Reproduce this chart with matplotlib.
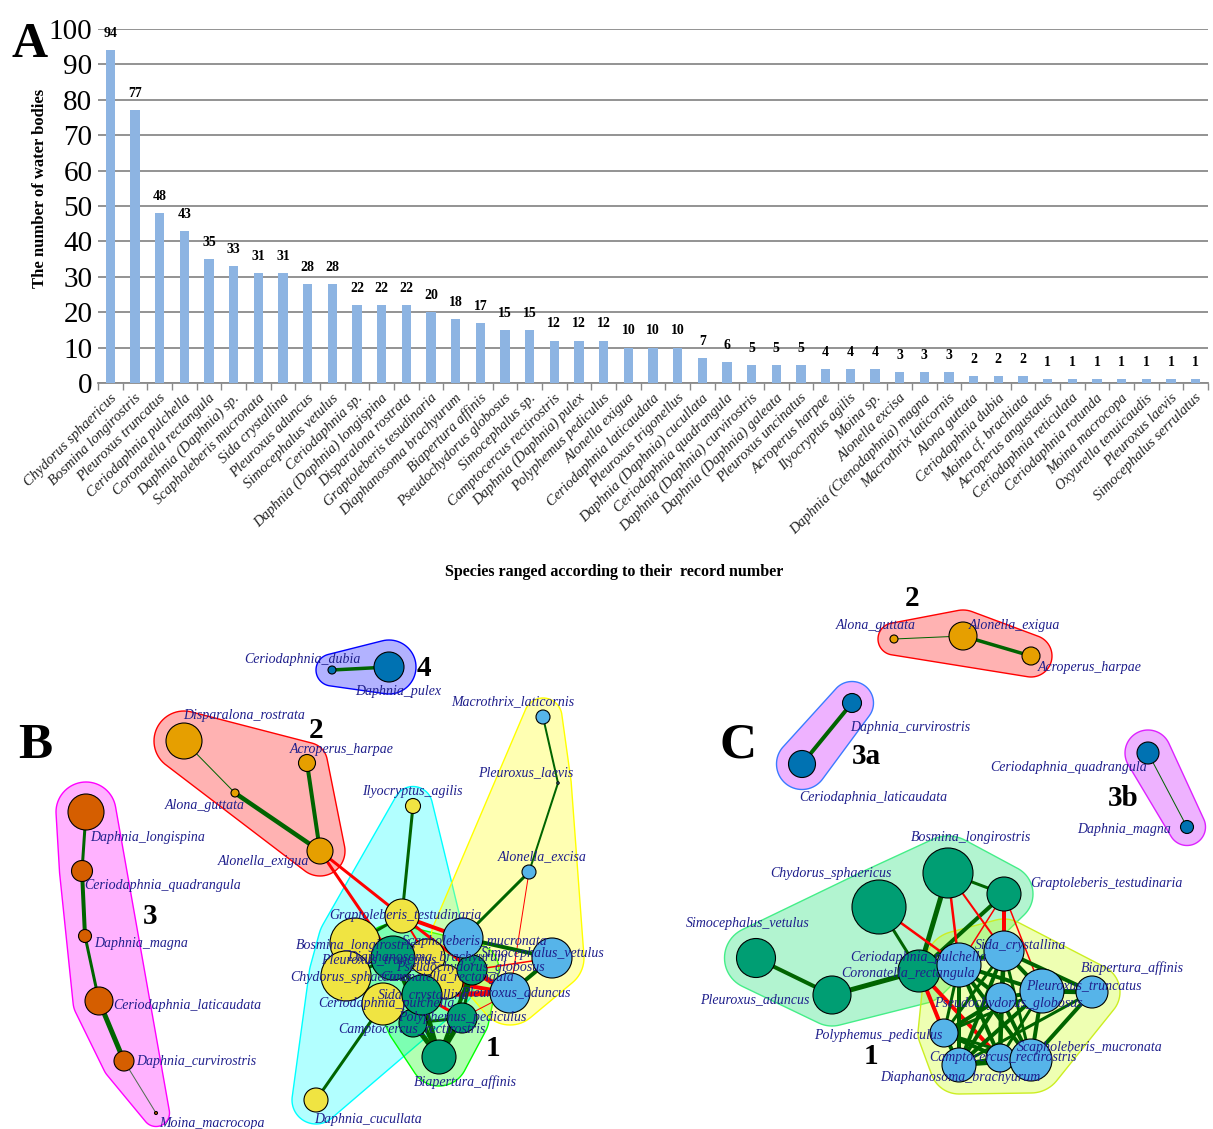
import numpy as np
import matplotlib
matplotlib.use("Agg")
import matplotlib.pyplot as plt
from matplotlib.patches import Circle, Polygon
from matplotlib.transforms import offset_copy
from matplotlib.colors import to_rgba

plt.rcParams['font.family'] = ['Liberation Serif', 'DejaVu Serif']

# ---------------- Panel A data ----------------
species = [
    "Chydorus sphaericus", "Bosmina longirostris", "Pleuroxus truncatus",
    "Ceriodaphnia pulchella", "Coronatella rectangula", "Daphnia (Daphnia) sp.",
    "Scapholeberis mucronata", "Sida crystallina", "Pleuroxus aduncus",
    "Simocephalus vetulus", "Ceriodaphnia sp.", "Daphnia (Daphnia) longispina",
    "Disparalona rostrata", "Graptoleberis tesudinaria", "Diaphanosoma brachyurum",
    "Biapertura affinis", "Pseudochydorus globosus", "Simocephalus sp.",
    "Camptocercus rectirostris", "Daphnia (Daphnia) pulex", "Polyphemus pediculus",
    "Alonella exigua", "Ceriodaphnia laticaudata", "Pleuroxus trigonellus",
    "Daphnia (Daphnia) cucullata", "Ceriodaphnia quadrangula",
    "Daphnia (Daphnia) curvirostris", "Daphnia (Daphnia) galeata",
    "Pleuroxus uncinatus", "Acroperus harpae", "Ilyocryptus agilis", "Moina sp.",
    "Alonella excisa", "Daphnia (Ctenodaphnia) magna", "Macrothrix laticornis",
    "Alona guttata", "Ceriodaphnia dubia", "Moina cf. brachiata",
    "Acroperus angustatus", "Ceriodaphnia reticulata", "Ceriodaphnia rotunda",
    "Moina macrocopa", "Oxyurella tenuicaudis", "Pleuroxus laevis",
    "Simocephalus serrulatus",
]
records = [94, 77, 48, 43, 35, 33, 31, 31, 28, 28, 22, 22, 22, 20, 18, 17, 15, 15,
           12, 12, 12, 10, 10, 10, 7, 6, 5, 5, 5, 4, 4, 4, 3, 3, 3, 2, 2, 2,
           1, 1, 1, 1, 1, 1, 1]
y_ticks = [0, 10, 20, 30, 40, 50, 60, 70, 80, 90, 100]

# ---------------- Network B data ----------------
b_nodes = [
    "Ceriodaphnia_dubia", "Daphnia_pulex",
    "Disparalona_rostrata", "Acroperus_harpae", "Alona_guttata", "Alonella_exigua",
    "Daphnia_longispina", "Ceriodaphnia_quadrangula", "Daphnia_magna",
    "Ceriodaphnia_laticaudata", "Daphnia_curvirostris", "Moina_macrocopa",
    "Ilyocryptus_agilis", "Daphnia_cucullata", "Bosmina_longirostris",
    "Chydorus_sphaericus", "Graptoleberis_testudinaria", "Diaphanosoma_brachyurum",
    "Coronatella_rectangula",
    "Pleuroxus_truncatus", "Camptocercus_rectirostris", "Ceriodaphnia_pulchella",
    "Sida_crystallina", "Pseudochydorus_globosus", "Polyphemus_pediculus",
    "Biapertura_affinis",
    "Macrothrix_laticornis", "Pleuroxus_laevis", "Alonella_excisa",
    "Scapholeberis_mucronata", "Simocephalus_vetulus", "Pleuroxus_aduncus",
]
b_x = [332, 389, 184, 307, 235, 320, 86, 82, 85, 99, 124, 156,
       413, 316, 355, 346, 402, 427, 446,
       393, 413, 383, 422, 472, 462, 439,
       543, 558, 529, 463, 552, 510]
b_y = [670, 667, 741, 763, 793, 851, 812, 871, 936, 1001, 1061, 1113,
       806, 1100, 943, 976, 916, 957, 982,
       958, 1023, 1004, 995, 970, 1018, 1057,
       717, 783, 872, 938, 958, 993]
b_size = [4, 15, 18, 8.5, 4, 13, 18, 10.5, 6.5, 14, 10, 1.5,
          7.5, 12, 25, 25, 17, 18, 17,
          22, 14, 21, 20, 15, 15, 17,
          7, 1.2, 7, 20, 20, 20]
b_group = ["g4", "g4", "g2", "g2", "g2", "g2", "g3", "g3", "g3", "g3", "g3", "g3",
           "cy", "cy", "cy", "cy", "cy", "cy", "cy",
           "g1", "g1", "cy", "g1", "g1", "g1", "g1",
           "ye", "ye", "ye", "ye", "ye", "ye"]
b_label_x = [302, 398, 244, 342, 205, 263, 148, 163, 141, 187, 196, 212,
             412, 368, 356, 351, 405, 427, 447,
             379, 412, 386, 424, 470, 462, 465,
             513, 526, 542, 475, 543, 516]
b_label_y = [659, 691, 715, 749, 805, 861, 837, 886, 943, 1006, 1061, 1123,
             791, 1120, 946, 978, 916, 957, 977,
             960, 1029, 1003, 995, 968, 1017, 1082,
             702, 773, 857, 941, 953, 993]
b_edges = [
    ("Ceriodaphnia_dubia", "Daphnia_pulex", 3.5, "+"),
    ("Disparalona_rostrata", "Alona_guttata", 1.0, "+"),
    ("Alona_guttata", "Alonella_exigua", 4.5, "+"),
    ("Acroperus_harpae", "Alonella_exigua", 4.0, "+"),
    ("Daphnia_longispina", "Ceriodaphnia_quadrangula", 3.0, "+"),
    ("Ceriodaphnia_quadrangula", "Daphnia_magna", 4.0, "+"),
    ("Daphnia_magna", "Ceriodaphnia_laticaudata", 3.0, "+"),
    ("Ceriodaphnia_laticaudata", "Daphnia_curvirostris", 5.0, "+"),
    ("Daphnia_curvirostris", "Moina_macrocopa", 1.0, "w"),
    ("Alonella_exigua", "Graptoleberis_testudinaria", 3.0, "-"),
    ("Alonella_exigua", "Pleuroxus_truncatus", 3.0, "-"),
    ("Ilyocryptus_agilis", "Graptoleberis_testudinaria", 3.0, "+"),
    ("Macrothrix_laticornis", "Pleuroxus_laevis", 2.0, "+"),
    ("Pleuroxus_laevis", "Alonella_excisa", 2.0, "+"),
    ("Alonella_excisa", "Scapholeberis_mucronata", 3.0, "+"),
    ("Alonella_excisa", "Pleuroxus_aduncus", 1.0, "-"),
    ("Scapholeberis_mucronata", "Simocephalus_vetulus", 4.0, "+"),
    ("Simocephalus_vetulus", "Pleuroxus_aduncus", 4.0, "+"),
    ("Simocephalus_vetulus", "Pseudochydorus_globosus", 1.5, "-"),
    ("Daphnia_cucullata", "Ceriodaphnia_pulchella", 3.0, "+"),
    ("Graptoleberis_testudinaria", "Bosmina_longirostris", 3.0, "+"),
    ("Graptoleberis_testudinaria", "Scapholeberis_mucronata", 4.0, "-"),
    ("Graptoleberis_testudinaria", "Pseudochydorus_globosus", 3.0, "-"),
    ("Graptoleberis_testudinaria", "Diaphanosoma_brachyurum", 2.0, "-"),
    ("Scapholeberis_mucronata", "Pseudochydorus_globosus", 3.0, "+"),
    ("Pseudochydorus_globosus", "Pleuroxus_aduncus", 5.0, "-"),
    ("Sida_crystallina", "Pleuroxus_aduncus", 5.0, "-"),
    ("Sida_crystallina", "Polyphemus_pediculus", 3.0, "-"),
    ("Coronatella_rectangula", "Pleuroxus_aduncus", 4.0, "-"),
    ("Pleuroxus_aduncus", "Polyphemus_pediculus", 1.0, "-"),
    ("Biapertura_affinis", "Camptocercus_rectirostris", 5.0, "+"),
    ("Biapertura_affinis", "Polyphemus_pediculus", 5.0, "+"),
    ("Biapertura_affinis", "Sida_crystallina", 5.0, "+"),
    ("Biapertura_affinis", "Pleuroxus_truncatus", 4.0, "+"),
    ("Biapertura_affinis", "Pseudochydorus_globosus", 4.0, "+"),
    ("Bosmina_longirostris", "Pleuroxus_truncatus", 4.0, "+"),
    ("Chydorus_sphaericus", "Pleuroxus_truncatus", 3.0, "+"),
    ("Ceriodaphnia_pulchella", "Sida_crystallina", 3.0, "+"),
    ("Camptocercus_rectirostris", "Polyphemus_pediculus", 3.0, "+"),
    ("Pleuroxus_truncatus", "Sida_crystallina", 4.0, "+"),
    ("Pseudochydorus_globosus", "Polyphemus_pediculus", 3.0, "+"),
]
b_hulls = [
    ("cy", "#00FFFF", "#00FFFF"),
    ("g1", "#00FF00", "#00FF00"),
    ("ye", "#FFFF00", "#FFFF00"),
    ("g2", "#FF0000", "#FF0000"),
    ("g3", "#FF00FF", "#FF00FF"),
    ("g4", "#0000FF", "#0000FF"),
]
b_tags = ["4", "2", "3", "1"]
b_tag_x = [424, 316, 150, 493]
b_tag_y = [668, 731, 917, 1048]

# ---------------- Network C data ----------------
c_nodes = [
    "Alona_guttata", "Alonella_exigua", "Acroperus_harpae",
    "Daphnia_curvirostris", "Ceriodaphnia_laticaudata",
    "Ceriodaphnia_quadrangula", "Daphnia_magna",
    "Bosmina_longirostris", "Chydorus_sphaericus", "Graptoleberis_testudinaria",
    "Simocephalus_vetulus", "Pleuroxus_aduncus", "Coronatella_rectangula",
    "Ceriodaphnia_pulchella", "Sida_crystallina", "Pleuroxus_truncatus",
    "Pseudochydorus_globosus", "Biapertura_affinis", "Polyphemus_pediculus",
    "Camptocercus_rectirostris", "Diaphanosoma_brachyurum", "Scapholeberis_mucronata",
]
c_x = [894, 963, 1031, 852, 802, 1148, 1187,
       948, 879, 1004, 756, 832, 919,
       959, 1004, 1042, 1001, 1092, 944, 1000, 959, 1031]
c_y = [639, 636, 656, 703, 764, 753, 827,
       873, 907, 894, 958, 995, 971,
       965, 951, 991, 998, 992, 1033, 1058, 1065, 1060]
c_size = [4, 14, 9, 9.5, 13.5, 11, 6.5,
          25, 27, 17, 19.5, 19, 21,
          22, 20, 22, 15, 16, 14, 14, 17, 21]
c_group = ["g2", "g2", "g2", "g3a", "g3a", "g3b", "g3b",
           "g1", "g1", "g1", "g1", "g1", "g1",
           "ye", "ye", "ye", "ye", "ye", "ye", "ye", "ye", "ye"]
c_label_x = [876, 1014, 1090, 910, 873, 1069, 1124,
             971, 831, 1106, 748, 755, 908,
             918, 1021, 1084, 1008, 1132, 878, 1003, 960, 1090]
c_label_y = [626, 626, 667, 727, 798, 767, 829,
             837, 873, 884, 924, 1000, 974,
             958, 946, 986, 1004, 968, 1035, 1058, 1077, 1048]
c_edges = [
    ("Alona_guttata", "Alonella_exigua", 1.0, "+"),
    ("Alonella_exigua", "Acroperus_harpae", 3.5, "+"),
    ("Daphnia_curvirostris", "Ceriodaphnia_laticaudata", 4.0, "+"),
    ("Ceriodaphnia_quadrangula", "Daphnia_magna", 1.0, "+"),
    ("Simocephalus_vetulus", "Pleuroxus_aduncus", 4.0, "+"),
    ("Pleuroxus_aduncus", "Coronatella_rectangula", 5.0, "+"),
    ("Chydorus_sphaericus", "Coronatella_rectangula", 3.0, "+"),
    ("Bosmina_longirostris", "Coronatella_rectangula", 5.0, "+"),
    ("Bosmina_longirostris", "Graptoleberis_testudinaria", 3.0, "+"),
    ("Graptoleberis_testudinaria", "Coronatella_rectangula", 4.0, "+"),
    ("Coronatella_rectangula", "Ceriodaphnia_pulchella", 3.0, "+"),
    ("Chydorus_sphaericus", "Ceriodaphnia_pulchella", 2.5, "-"),
    ("Bosmina_longirostris", "Ceriodaphnia_pulchella", 2.5, "-"),
    ("Bosmina_longirostris", "Sida_crystallina", 2.0, "-"),
    ("Graptoleberis_testudinaria", "Sida_crystallina", 4.0, "-"),
    ("Graptoleberis_testudinaria", "Ceriodaphnia_pulchella", 1.5, "-"),
    ("Graptoleberis_testudinaria", "Pleuroxus_truncatus", 1.5, "-"),
    ("Coronatella_rectangula", "Polyphemus_pediculus", 4.0, "-"),
    ("Coronatella_rectangula", "Camptocercus_rectirostris", 4.0, "-"),
    ("Ceriodaphnia_pulchella", "Sida_crystallina", 4.0, "+"),
    ("Ceriodaphnia_pulchella", "Pleuroxus_truncatus", 4.0, "+"),
    ("Ceriodaphnia_pulchella", "Pseudochydorus_globosus", 4.0, "+"),
    ("Ceriodaphnia_pulchella", "Camptocercus_rectirostris", 4.0, "+"),
    ("Ceriodaphnia_pulchella", "Diaphanosoma_brachyurum", 4.0, "+"),
    ("Ceriodaphnia_pulchella", "Scapholeberis_mucronata", 4.0, "+"),
    ("Ceriodaphnia_pulchella", "Polyphemus_pediculus", 3.0, "+"),
    ("Sida_crystallina", "Pleuroxus_truncatus", 4.0, "+"),
    ("Sida_crystallina", "Pseudochydorus_globosus", 4.0, "+"),
    ("Sida_crystallina", "Camptocercus_rectirostris", 4.0, "+"),
    ("Sida_crystallina", "Diaphanosoma_brachyurum", 4.0, "+"),
    ("Sida_crystallina", "Scapholeberis_mucronata", 3.0, "+"),
    ("Sida_crystallina", "Polyphemus_pediculus", 3.0, "+"),
    ("Sida_crystallina", "Biapertura_affinis", 4.0, "+"),
    ("Pleuroxus_truncatus", "Pseudochydorus_globosus", 4.0, "+"),
    ("Pleuroxus_truncatus", "Scapholeberis_mucronata", 4.0, "+"),
    ("Pleuroxus_truncatus", "Camptocercus_rectirostris", 3.0, "+"),
    ("Pleuroxus_truncatus", "Diaphanosoma_brachyurum", 4.0, "+"),
    ("Pleuroxus_truncatus", "Polyphemus_pediculus", 3.0, "+"),
    ("Pleuroxus_truncatus", "Biapertura_affinis", 5.0, "+"),
    ("Pseudochydorus_globosus", "Polyphemus_pediculus", 4.0, "+"),
    ("Pseudochydorus_globosus", "Camptocercus_rectirostris", 4.0, "+"),
    ("Pseudochydorus_globosus", "Diaphanosoma_brachyurum", 4.0, "+"),
    ("Pseudochydorus_globosus", "Scapholeberis_mucronata", 4.0, "+"),
    ("Polyphemus_pediculus", "Camptocercus_rectirostris", 4.0, "+"),
    ("Polyphemus_pediculus", "Diaphanosoma_brachyurum", 4.0, "+"),
    ("Polyphemus_pediculus", "Scapholeberis_mucronata", 3.0, "+"),
    ("Camptocercus_rectirostris", "Diaphanosoma_brachyurum", 4.0, "+"),
    ("Camptocercus_rectirostris", "Scapholeberis_mucronata", 4.0, "+"),
    ("Diaphanosoma_brachyurum", "Scapholeberis_mucronata", 4.0, "+"),
    ("Biapertura_affinis", "Diaphanosoma_brachyurum", 3.0, "+"),
    ("Biapertura_affinis", "Scapholeberis_mucronata", 4.0, "+"),
]
c_hulls = [
    ("g1", "#00DD66", "#44EE88"),
    ("ye", "#C8FF00", "#CCEE22"),
    ("g2", "#FF0000", "#FF0000"),
    ("g3a", "#C800FF", "#3A7BFF"),
    ("g3b", "#C800FF", "#DD22FF"),
]
c_tags = ["2", "3a", "3b", "1"]
c_tag_x = [912, 866, 1123, 871]
c_tag_y = [598, 757, 798, 1057]

node_colours = {"g4": "#0072B2", "g2": "#E69F00", "g3": "#D55E00", "cy": "#F0E442",
                "g1": "#009E73", "ye": "#56B4E9", "g3a": "#0072B2", "g3b": "#0072B2"}
edge_colours = {"+": "#006400", "-": "#FF0000", "w": "#4F6F4F"}
label_colour = "#1F1F8C"

W, H = 1213, 1129
fig = plt.figure(figsize=(W / 100, H / 100), dpi=100)

# ---------------- Panel A ----------------
ax = fig.add_axes([98 / W, 1 - 383 / H, (1208 - 98) / W, (383 - 29) / H])
xpos = np.arange(len(species))
ax.bar(xpos, records, width=0.38, color="#8DB4E2", zorder=3)
ax.set_xlim(-0.5, len(species) - 0.5)
ax.set_ylim(0, 100)
ax.set_yticks(y_ticks)
ax.set_yticklabels([str(v) for v in y_ticks], fontsize=21)
ax.tick_params(axis="y", length=0, pad=4)
ax.yaxis.grid(True, color="#8A8A8A", linewidth=1.3, zorder=0)
for s in ("left", "right", "top"):
    ax.spines[s].set_visible(False)
ax.spines["bottom"].set_color("#8A8A8A")
ax.spines["bottom"].set_linewidth(1.3)
ax.set_xticks(np.arange(len(species) + 1) - 0.5)
ax.set_xticklabels([])
ax.tick_params(axis="x", length=5, width=1, color="#8A8A8A", direction="out")

for i, v in enumerate(records):
    ax.annotate(str(v), (i, v), xytext=(0, 12), textcoords="offset points",
                ha="center", va="center", fontsize=10, fontweight="bold")

lab_tr = offset_copy(ax.transData, fig=fig, x=4, y=-13, units="dots")
for i, name in enumerate(species):
    ax.text(i, 0, name, transform=lab_tr, rotation=45, rotation_mode="anchor",
            ha="right", va="center", fontsize=10.5, fontstyle="italic", color="#222222")

ax.set_ylabel("The number of water bodies", fontsize=12, fontweight="bold")
ax.yaxis.set_label_coords(-50 / (1208 - 98), 0.55)
fig.text(614 / W, 1 - 572 / H, "Species ranged according to their  record number",
         ha="center", va="center", fontsize=11.5, fontweight="bold")
fig.text(30 / W, 1 - 45 / H, "A", ha="center", va="center", fontsize=36, fontweight="bold")

# ---------------- Panels B and C ----------------
net = fig.add_axes([0, 0, 1, (H - 584) / H])
net.set_xlim(0, W)
net.set_ylim(H, 584)
net.axis("off")


def convex_hull(points):
    pts = sorted(set(points))
    if len(pts) < 3:
        return pts

    def cross(o, a, b):
        return (a[0] - o[0]) * (b[1] - o[1]) - (a[1] - o[1]) * (b[0] - o[0])
    lower, upper = [], []
    for p in pts:
        while len(lower) >= 2 and cross(lower[-2], lower[-1], p) <= 0:
            lower.pop()
        lower.append(p)
    for p in reversed(pts):
        while len(upper) >= 2 and cross(upper[-2], upper[-1], p) <= 0:
            upper.pop()
        upper.append(p)
    return lower[:-1] + upper[:-1]


def draw_network(names, xs, ys, sizes, groups, lx, ly, edges, hulls, pad):
    idx = {n: i for i, n in enumerate(names)}
    theta = np.linspace(0, 2 * np.pi, 72, endpoint=False)
    # shaded group outlines
    for g, fillc, edgec in hulls:
        pts = []
        for i, gg in enumerate(groups):
            if gg == g:
                rr = sizes[i] + pad
                pts += [(round(xs[i] + rr * np.cos(t), 3), round(ys[i] + rr * np.sin(t), 3))
                        for t in theta]
        hull = convex_hull(pts)
        net.add_patch(Polygon(hull, closed=True, facecolor=to_rgba(fillc, 0.3),
                              edgecolor=edgec, linewidth=1.0, zorder=1))
    # co-occurrence links: green positive, red negative
    for a, b, w, s in edges:
        ia, ib = idx[a], idx[b]
        net.plot([xs[ia], xs[ib]], [ys[ia], ys[ib]], color=edge_colours[s],
                 linewidth=w * 0.72, solid_capstyle="butt", zorder=2)
    for i in range(len(names)):
        net.add_patch(Circle((xs[i], ys[i]), sizes[i], facecolor=node_colours[groups[i]],
                             edgecolor="black", linewidth=0.8, zorder=3 + i * 0.01))
    for i, n in enumerate(names):
        net.text(lx[i], ly[i], n, ha="center", va="center", fontsize=10,
                 fontstyle="italic", color=label_colour, zorder=10)


draw_network(b_nodes, b_x, b_y, b_size, b_group, b_label_x, b_label_y,
             b_edges, b_hulls, 12)
draw_network(c_nodes, c_x, c_y, c_size, c_group, c_label_x, c_label_y,
             c_edges, c_hulls, 12)

for t, x, y in zip(b_tags, b_tag_x, b_tag_y):
    net.text(x, y, t, ha="center", va="center", fontsize=21, fontweight="bold", zorder=11)
for t, x, y in zip(c_tags, c_tag_x, c_tag_y):
    net.text(x, y, t, ha="center", va="center", fontsize=21, fontweight="bold", zorder=11)
net.text(35, 746, "B", ha="center", va="center", fontsize=37, fontweight="bold")
net.text(738, 746, "C", ha="center", va="center", fontsize=37, fontweight="bold")

fig.savefig("out.png", dpi=100, facecolor="white")
